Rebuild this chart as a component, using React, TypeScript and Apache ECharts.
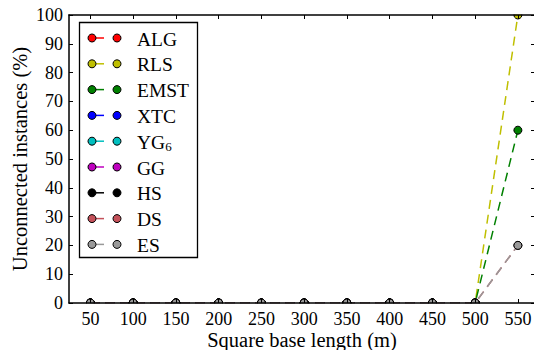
import React, { useEffect, useRef } from "react";
import * as echarts from "echarts";

const xValues = [50, 100, 150, 200, 250, 300, 350, 400, 450, 500, 550];
const seriesNames = ["ALG", "RLS", "EMST", "XTC", "YG6", "GG", "HS", "DS", "ES"];
const legendLabels = ["ALG", "RLS", "EMST", "XTC", "YG{sub|6}", "GG", "HS", "DS", "ES"];
const seriesColors = ["#ff0000", "#bfbf00", "#008000", "#0000ff", "#00bfbf", "#bf00bf", "#000000", "#c4515a", "#999999"];
const ALG = [0, 0, 0, 0, 0, 0, 0, 0, 0, 0, null];
const RLS = [0, 0, 0, 0, 0, 0, 0, 0, 0, 0, 100];
const EMST = [0, 0, 0, 0, 0, 0, 0, 0, 0, 0, 60];
const XTC = [0, 0, 0, 0, 0, 0, 0, 0, 0, 0, null];
const YG6 = [0, 0, 0, 0, 0, 0, 0, 0, 0, 0, null];
const GG = [0, 0, 0, 0, 0, 0, 0, 0, 0, 0, null];
const HS = [0, 0, 0, 0, 0, 0, 0, 0, 0, 0, null];
const DS = [0, 0, 0, 0, 0, 0, 0, 0, 0, 0, 20];
const ES = [0, 0, 0, 0, 0, 0, 0, 0, 0, 0, 20];
const seriesValues = [ALG, RLS, EMST, XTC, YG6, GG, HS, DS, ES];

const FONT = "Liberation Serif";

export default function App() {
  const ref = useRef<HTMLDivElement>(null);
  useEffect(() => {
    if (!ref.current) return;
    const chart = echarts.init(ref.current, null, { renderer: "svg" });
    const W = 540;
    const gridLeft = 69, gridTop = 15, gridRight = 5, gridBottom = 47;
    const plotBottom = 350 - gridBottom;

    const series = seriesNames.map((name, i) => ({
      name,
      type: "line",
      xAxisIndex: 0,
      yAxisIndex: 0,
      data: xValues
        .map((x, j) => [x, seriesValues[i][j]])
        .filter((p) => p[1] !== null),
      symbol: "circle",
      symbolSize: 8,
      z: 2,
      lineStyle: { color: seriesColors[i], width: 1.5, type: [9, 6] },
      itemStyle: { color: seriesColors[i], borderColor: "#000", borderWidth: 1 },
      clip: true,
    }));

    const legendX = 79.5, legendY = 22.5, legendW = 118, legendH = 235;
    const legendEls: any[] = [
      {
        type: "rect",
        shape: { x: legendX, y: legendY, width: legendW, height: legendH },
        style: { fill: "#fff", stroke: "#000", lineWidth: 1.3 },
        z: 20,
      },
    ];
    seriesNames.forEach((n, i) => {
      const cy = 38 + i * 25.8;
      legendEls.push({
        type: "line",
        shape: { x1: 92, y1: cy, x2: 104, y2: cy },
        style: { stroke: seriesColors[i], lineWidth: 1.5 },
        z: 21,
      });
      legendEls.push({
        type: "circle",
        shape: { cx: 92, cy, r: 4 },
        style: { fill: seriesColors[i], stroke: "#000", lineWidth: 1 },
        z: 22,
      });
      legendEls.push({
        type: "circle",
        shape: { cx: 117, cy, r: 4 },
        style: { fill: seriesColors[i], stroke: "#000", lineWidth: 1 },
        z: 22,
      });
      legendEls.push({
        type: "text",
        x: 137,
        y: cy + 1,
        style: {
          text: legendLabels[i],
          fontSize: 19.5,
          fontFamily: FONT,
          fill: "#000",
          verticalAlign: "middle",
          align: "left",
          rich: { sub: { fontSize: 13, fontFamily: FONT, padding: [8, 0, 0, 0], fill: "#000" } },
        },
        z: 22,
      });
    });

    const masks = [
      { type: "rect", shape: { x: gridLeft, y: plotBottom + 0.5, width: W, height: 60 }, style: { fill: "#fff" }, z: 5 },
      { type: "rect", shape: { x: gridLeft, y: 0, width: W, height: gridTop - 0.5 }, style: { fill: "#fff" }, z: 5 },
    ];

    const axisBase = {
      axisLine: { show: true, onZero: false, lineStyle: { color: "#000", width: 1.5 } },
      axisTick: { show: true, inside: true, length: 4, lineStyle: { color: "#000", width: 1 } },
      splitLine: { show: false },
      z: 10,
    };
    const tickStyle = { fontSize: 18, color: "#000", fontFamily: FONT };
    const nameStyle = { fontSize: 20.5, color: "#000", fontFamily: FONT };

    chart.setOption({
      animation: false,
      textStyle: { fontFamily: FONT },
      grid: {
        left: gridLeft,
        top: gridTop,
        right: gridRight,
        bottom: gridBottom,
        containLabel: false,
        outerBoundsMode: "none",
      },
      xAxis: [
        {
          ...axisBase,
          type: "value",
          position: "bottom",
          min: 25,
          max: 570,
          axisTick: { ...axisBase.axisTick, customValues: xValues },
          axisLabel: { ...tickStyle, customValues: xValues, margin: 6.5 },
          name: "Square base length (m)",
          nameLocation: "middle",
          nameGap: 26.5,
          nameMoveOverlap: false,
          nameTextStyle: nameStyle,
        },
        {
          ...axisBase,
          type: "value",
          position: "top",
          min: 25,
          max: 570,
          axisTick: { ...axisBase.axisTick, customValues: xValues },
          axisLabel: { show: false, customValues: xValues },
        },
      ],
      yAxis: [
        {
          ...axisBase,
          type: "value",
          position: "left",
          min: 0,
          max: 100,
          interval: 10,
          axisLabel: { ...tickStyle, margin: 6 },
          name: "Unconnected instances (%)",
          nameLocation: "middle",
          nameGap: 39,
          nameMoveOverlap: false,
          nameTextStyle: nameStyle,
        },
        {
          ...axisBase,
          type: "value",
          position: "right",
          min: 0,
          max: 100,
          interval: 10,
          axisLabel: { show: false },
        },
      ],
      graphic: [...masks, ...legendEls],
      series,
    });
    return () => chart.dispose();
  }, []);
  return (
    <div
      ref={ref}
      style={{ position: "fixed", left: 0, top: 0, width: 540, height: 350, background: "#fff" }}
    />
  );
}
